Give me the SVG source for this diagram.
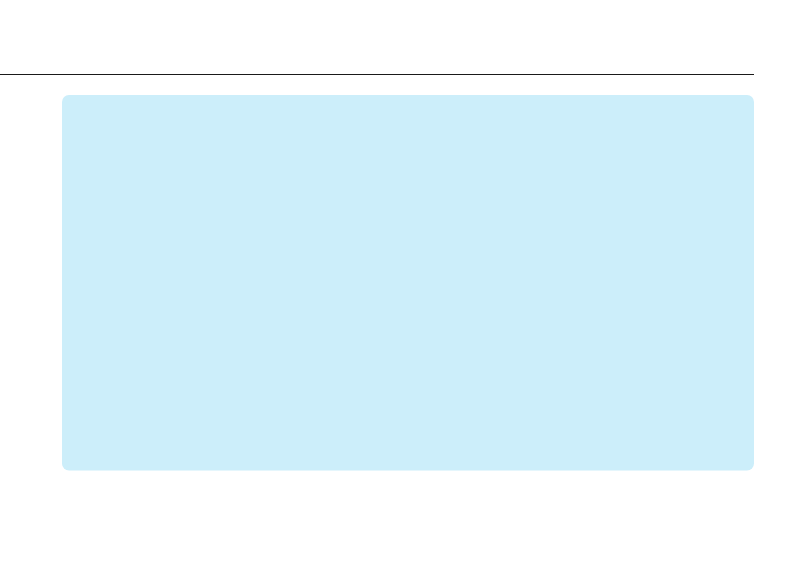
<svg xmlns="http://www.w3.org/2000/svg" width="812" height="568" viewBox="0 0 812 568">
<style>
.rule{stroke:#1a1a1a;stroke-width:1.2;fill:none}
.panel{fill:#cceefa;stroke:none}
</style>
<rect width="812" height="568" fill="#ffffff"/>
<g id="header-rule"><line class="rule" x1="0" y1="74.5" x2="754" y2="74.5"/></g>
<g id="panel"><rect class="panel" x="62" y="95" width="692" height="375.5" rx="7" ry="7"/></g>
<g id="connectors"></g>
</svg>
